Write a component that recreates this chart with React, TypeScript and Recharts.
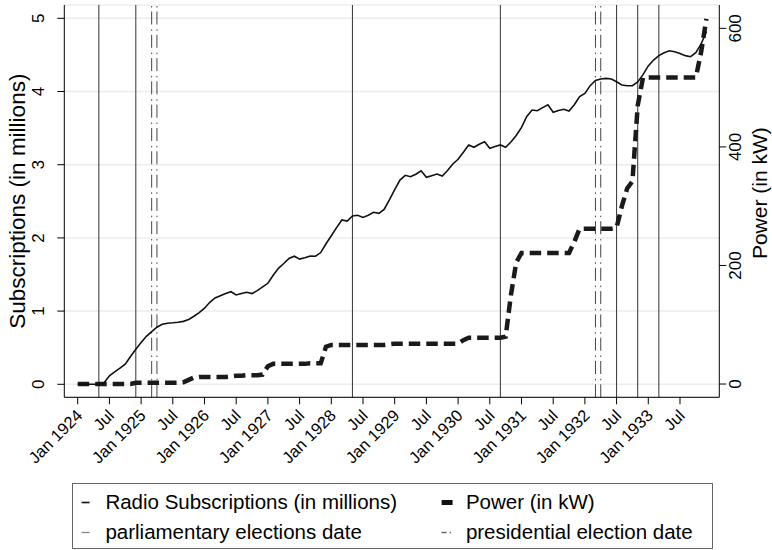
import React from 'react';
import { ComposedChart, Line, XAxis, YAxis, CartesianGrid, ReferenceLine } from 'recharts';

const FONT = '"Liberation Sans", Arial, Helvetica, sans-serif';

// month index: 0 = Jan 1924 ... 119 = Dec 1933
const monthIndex = Array.from({ length: 120 }, (_, i) => i);

// Radio subscriptions (in millions), monthly
const subscriptions = [
  0, 0, 0, 0, 0, 0.02, 0.117, 0.17, 0.22, 0.275,
  0.38, 0.48, 0.57, 0.655, 0.72, 0.78, 0.82, 0.835, 0.84, 0.847,
  0.86, 0.885, 0.93, 0.98, 1.04, 1.12, 1.18, 1.21, 1.24, 1.265,
  1.22, 1.24, 1.257, 1.24, 1.28, 1.33, 1.38, 1.49, 1.585, 1.65,
  1.72, 1.75, 1.71, 1.73, 1.753, 1.75, 1.8, 1.92, 2.03, 2.14,
  2.245, 2.23, 2.3, 2.31, 2.28, 2.31, 2.35, 2.336, 2.39, 2.52,
  2.66, 2.79, 2.855, 2.836, 2.87, 2.918, 2.828, 2.85, 2.873, 2.846,
  2.92, 3.01, 3.074, 3.17, 3.27, 3.238, 3.28, 3.314, 3.224, 3.25,
  3.27, 3.238, 3.31, 3.4, 3.51, 3.66, 3.747, 3.738, 3.78, 3.82,
  3.716, 3.74, 3.757, 3.734, 3.82, 3.93, 3.975, 4.08, 4.15, 4.17,
  4.18, 4.17, 4.134, 4.09, 4.079, 4.079, 4.13, 4.23, 4.35, 4.43,
  4.49, 4.53, 4.557, 4.544, 4.52, 4.49, 4.475, 4.53, 4.65, 4.82,
];

// Transmitter power (in kW), monthly
const power = [
  0, 0, 0, 0, 0, 0, 0, 0, 0, 0,
  0, 2, 2, 2, 2, 2, 2, 2, 2, 2,
  3, 7, 11, 12, 12, 12, 12, 12, 12, 13,
  14, 14, 15, 15, 15, 16, 30, 34, 34, 34,
  34, 34, 34, 34, 35, 35, 35, 63, 66, 66,
  66, 66, 66, 66, 66, 66, 66, 66, 66, 67,
  68, 68, 68, 68, 68, 68, 68, 68, 68, 68,
  68, 68, 68, 74, 78, 78, 78, 78, 78, 78,
  78, 80, 150, 205, 221, 221, 221, 221, 221, 221,
  221, 221, 221, 221, 240, 262, 262, 262, 262, 262,
  262, 262, 264, 300, 330, 342, 470, 517, 517, 517,
  517, 517, 517, 517, 517, 517, 517, 517, 560, 616,
];

const parliamentaryMonths = [4, 11, 52, 80, 102, 106, 110];
const presidentialMonths = [14, 15, 98, 99];

const xTicks = [0, 6, 12, 18, 24, 30, 36, 42, 48, 54, 60, 66, 72, 78, 84, 90, 96, 102, 108, 114];
const xTickLabels = [
  'Jan 1924', 'Jul', 'Jan 1925', 'Jul', 'Jan 1926', 'Jul', 'Jan 1927', 'Jul', 'Jan 1928', 'Jul',
  'Jan 1929', 'Jul', 'Jan 1930', 'Jul', 'Jan 1931', 'Jul', 'Jan 1932', 'Jul', 'Jan 1933', 'Jul',
];
const leftTicks = [0, 1, 2, 3, 4, 5];
const rightTicks = [0, 200, 400, 600];

const data = monthIndex.map((m, i) => ({ m, subs: subscriptions[i], power: power[i] }));

const XTick = (props: any) => {
  const { x, y, payload } = props;
  const idx = xTicks.indexOf(payload.value);
  const label = idx >= 0 ? xTickLabels[idx] : '';
  const ax = x + 1.5;
  const ay = y + 6;
  return (
    <text
      x={ax}
      y={ay}
      transform={`rotate(-45, ${ax}, ${ay})`}
      textAnchor="end"
      dominantBaseline="central"
      fontSize={16.5}
      fontFamily={FONT}
      fill="#000"
    >
      {label}
    </text>
  );
};

const LeftTick = (props: any) => {
  const { x, y, payload } = props;
  const cx = x - 17;
  return (
    <text x={cx} y={y} transform={`rotate(-90, ${cx}, ${y})`} textAnchor="middle" dominantBaseline="central"
      fontSize={17} fontFamily={FONT} fill="#000">
      {payload.value}
    </text>
  );
};

const RightTick = (props: any) => {
  const { x, y, payload } = props;
  const cx = x + 7;
  return (
    <text x={cx} y={y} transform={`rotate(-90, ${cx}, ${y})`} textAnchor="middle" dominantBaseline="central"
      fontSize={17} fontFamily={FONT} fill="#000">
      {payload.value}
    </text>
  );
};

const LeftTitle = (props: any) => {
  const vb = props.viewBox || {};
  const cx = (vb.x ?? 0) + 18;
  const cy = (vb.y ?? 0) + (vb.height ?? 0) / 2;
  return (
    <text x={cx} y={cy} transform={`rotate(-90, ${cx}, ${cy})`} textAnchor="middle" dominantBaseline="central"
      fontSize={22.5} fontFamily={FONT} fill="#000">
      Subscriptions (in millions)
    </text>
  );
};

const RightTitle = (props: any) => {
  const vb = props.viewBox || {};
  const cx = (vb.x ?? 0) + 40;
  const cy = (vb.y ?? 0) + (vb.height ?? 0) / 2 - 8;
  return (
    <text x={cx} y={cy} transform={`rotate(-90, ${cx}, ${cy})`} textAnchor="middle" dominantBaseline="central"
      fontSize={21} fontFamily={FONT} fill="#000">
      Power (in kW)
    </text>
  );
};

const legendText: React.CSSProperties = {
  position: 'absolute',
  fontFamily: FONT,
  fontSize: 20.5,
  color: '#000',
  lineHeight: '30px',
  whiteSpace: 'nowrap',
};

export default function App() {
  return (
    <div style={{ position: 'absolute', left: 0, top: 0, width: 772, height: 550, background: '#fff' }}>
      <ComposedChart
        width={772}
        height={550}
        data={data}
        margin={{ top: 5, right: 0, bottom: 72.7, left: 0 }}
      >
        <CartesianGrid yAxisId="left" vertical={false} stroke="#ececec" strokeWidth={1.5} />
        <XAxis
          dataKey="m"
          type="number"
          domain={[-2.536, 121.44]}
          allowDataOverflow
          ticks={xTicks}
          interval={0}
          height={80}
          tickSize={7}
          tick={<XTick />}
          stroke="#000"
          tickLine={{ stroke: '#000' }}
        />
        <YAxis
          yAxisId="left"
          orientation="left"
          width={64.3}
          domain={[-0.1776, 5.182]}
          allowDataOverflow
          ticks={leftTicks}
          interval={0}
          tickSize={7}
          tick={<LeftTick />}
          stroke="#000"
          label={<LeftTitle />}
        />
        <YAxis
          yAxisId="right"
          orientation="right"
          width={52.7}
          domain={[-22.4, 639.4]}
          allowDataOverflow
          ticks={rightTicks}
          interval={0}
          tickSize={7}
          tick={<RightTick />}
          stroke="#000"
          label={<RightTitle />}
        />
        {parliamentaryMonths.map((m) => (
          <ReferenceLine key={'p' + m} yAxisId="left" x={m} stroke="#333" strokeWidth={1} />
        ))}
        {presidentialMonths.map((m) => (
          <ReferenceLine key={'r' + m} yAxisId="left" x={m} stroke="#444" strokeWidth={1}
            strokeDasharray="13 4 1.5 4.8" />
        ))}
        <Line
          yAxisId="right"
          dataKey="power"
          type="linear"
          stroke="#1a1a1a"
          strokeWidth={4.5}
          strokeDasharray="11.5 6"
          dot={false}
          activeDot={false}
          isAnimationActive={false}
        />
        <Line
          yAxisId="left"
          dataKey="subs"
          type="linear"
          stroke="#111"
          strokeWidth={1.6}
          dot={false}
          activeDot={false}
          isAnimationActive={false}
        />
      </ComposedChart>
      <div
        style={{
          position: 'absolute',
          left: 72.4,
          top: 482.7,
          width: 640.4,
          height: 66.5,
          boxSizing: 'border-box',
          border: '1px solid #666',
          background: '#fff',
        }}
      >
        <svg style={{ position: 'absolute', left: 0, top: 0 }} width={640} height={66}>
          <line x1={8.6} x2={16.6} y1={18.5} y2={18.5} stroke="#111" strokeWidth={1.6} />
          <line x1={368.6} x2={379.6} y1={18.5} y2={18.5} stroke="#111" strokeWidth={5} />
          <line x1={8.6} x2={16.6} y1={48.5} y2={48.5} stroke="#888" strokeWidth={1.3} />
          <line x1={368.6} x2={378.6} y1={48.5} y2={48.5} stroke="#666" strokeWidth={1.3} strokeDasharray="5 3 1.5 3" />
        </svg>
        <span style={{ ...legendText, left: 32, top: 3.5 }}>Radio Subscriptions (in millions)</span>
        <span style={{ ...legendText, left: 392.5, top: 3.5 }}>Power (in kW)</span>
        <span style={{ ...legendText, left: 32, top: 33.5 }}>parliamentary elections date</span>
        <span style={{ ...legendText, left: 392.5, top: 33.5 }}>presidential election date</span>
      </div>
    </div>
  );
}
